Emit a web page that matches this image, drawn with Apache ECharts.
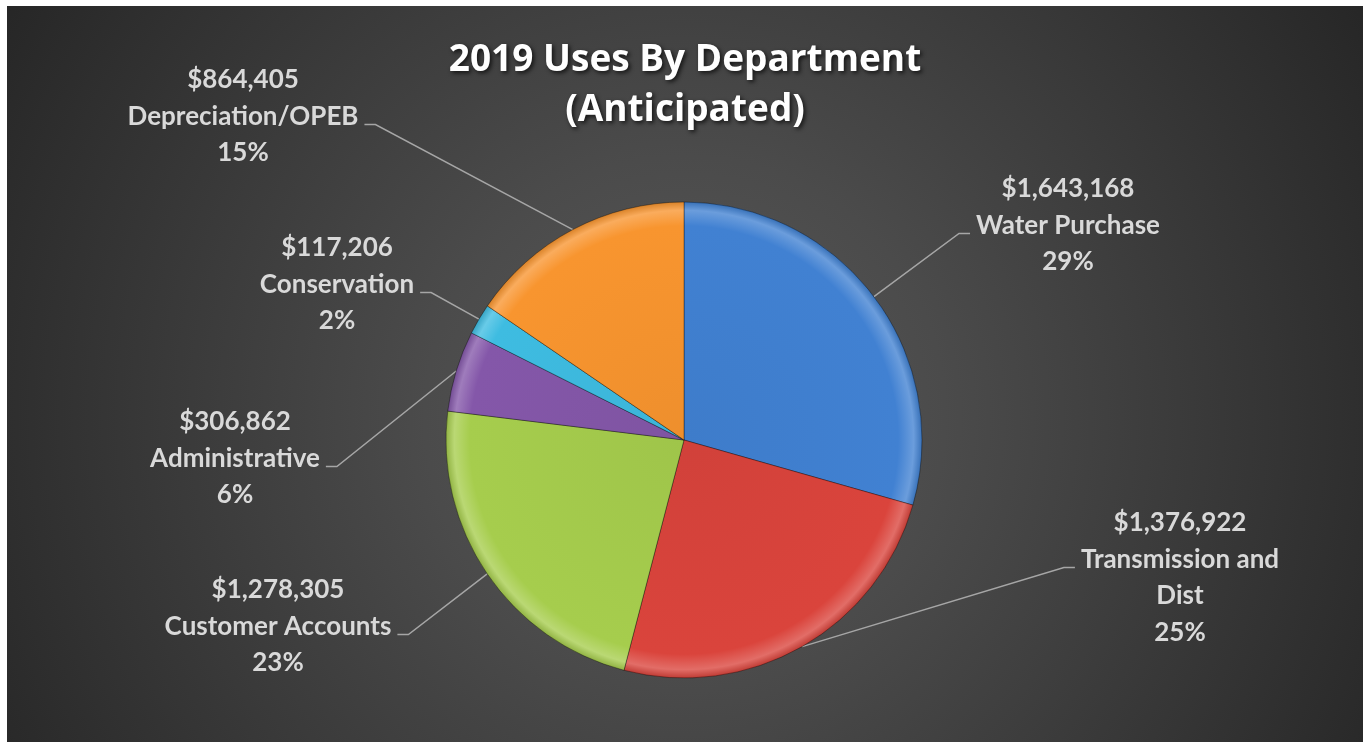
<!DOCTYPE html>
<html>
<head>
<meta charset="utf-8">
<script src="https://cdn.jsdelivr.net/npm/echarts@6/dist/echarts.min.js"></script>
<style>
html,body{margin:0;padding:0;background:#ffffff;width:1369px;height:746px;overflow:hidden}
#chart{position:absolute;left:7px;top:6px;width:1356px;height:736px;
background:radial-gradient(circle at 678px 410px,#595959 0px,#4b4b4b 260px,#262626 800px);}
</style>
</head>
<body>
<div id="chart"></div>
<script>
// ---- data ----
const categories = ['Water Purchase', 'Transmission and\nDist', 'Customer Accounts', 'Administrative', 'Conservation', 'Depreciation/OPEB'];
const values = [1643168, 1376922, 1278305, 306862, 117206, 864405];
const colors = ['#4181d2', '#da443c', '#a6cd4d', '#8457a9', '#3ebce1', '#f8952f'];
const titleLines = ['2019 Uses By Department', '(Anticipated)'];

// ---- layout (page pixels) ----
const OFF_X = 7, OFF_Y = 6;
const PIE_CX = 684 - OFF_X, PIE_CY = 440 - OFF_Y, PIE_R = 238;
const labelCenterX = [1068, 1180, 278, 235, 337, 243];
const labelFirstLineY = [189, 523, 590, 422, 248, 80];
const LH = 36.5;

function mix(hex, target, t) {
  const n = parseInt(hex.slice(1), 16);
  const r = (n >> 16) & 255, g = (n >> 8) & 255, b = n & 255;
  const m = c => Math.round(c + (target - c) * t);
  return 'rgb(' + m(r) + ',' + m(g) + ',' + m(b) + ')';
}
function bevel(c) {
  return new echarts.graphic.RadialGradient(PIE_CX, PIE_CY, PIE_R, [
    { offset: 0, color: mix(c, 0, 0.04) },
    { offset: 0.9, color: c },
    { offset: 0.965, color: mix(c, 255, 0.22) },
    { offset: 1, color: mix(c, 0, 0.12) }
  ], true);
}

const pieData = categories.map((name, i) => ({
  name: name,
  value: values[i],
  itemStyle: { color: bevel(colors[i]) }
}));

const chart = echarts.init(document.getElementById('chart'), null, { renderer: 'canvas' });
chart.setOption({
  backgroundColor: 'transparent',
  animation: false,
  title: {
    text: titleLines.join('\n'),
    left: 'center',
    top: 55 - 25 - OFF_Y,
    textStyle: {
      color: '#ffffff',
      fontFamily: 'Open Sans',
      fontWeight: 'bold',
      fontSize: 37,
      lineHeight: 50,
      textShadowColor: 'rgba(0,0,0,0.7)',
      textShadowBlur: 4,
      textShadowOffsetX: 2,
      textShadowOffsetY: 2
    }
  },
  series: [{
    type: 'pie',
    center: [PIE_CX, PIE_CY],
    radius: PIE_R,
    startAngle: 90,
    clockwise: true,
    avoidLabelOverlap: false,
    percentPrecision: 0,
    emphasis: { disabled: true },
    itemStyle: { borderColor: 'rgba(0,0,0,0.35)', borderWidth: 1 },
    label: {
      show: true,
      position: 'outside',
      color: '#d9d9d9',
      fontFamily: 'Lato',
      fontWeight: 'bold',
      fontSize: 26,
      lineHeight: LH,
      formatter: p => '$' + p.value.toLocaleString('en-US') + '\n' + p.name + '\n' + p.percent + '%'
    },
    labelLine: {
      show: true,
      length: 20,
      length2: 10,
      lineStyle: { color: '#a6a6a6', width: 1.5 }
    },
    labelLayout: function (p) {
      const i = p.dataIndex;
      const w = p.labelRect.width;
      const cx = labelCenterX[i] - OFF_X;
      const top = labelFirstLineY[i] - OFF_Y - LH / 2;
      const ly = top + LH * 1.5 + 8;
      const right = cx > PIE_CX;
      const edge = right ? cx - w / 2 - 6 : cx + w / 2 + 6;
      const bend = right ? edge - 11 : edge + 11;
      const p0 = p.labelLinePoints ? p.labelLinePoints[0] : [PIE_CX, PIE_CY];
      return {
        x: cx, y: top, align: 'center', verticalAlign: 'top',
        labelLinePoints: [p0, [bend, ly], [edge, ly]]
      };
    },
    data: pieData
  }]
});
</script>
</body>
</html>
